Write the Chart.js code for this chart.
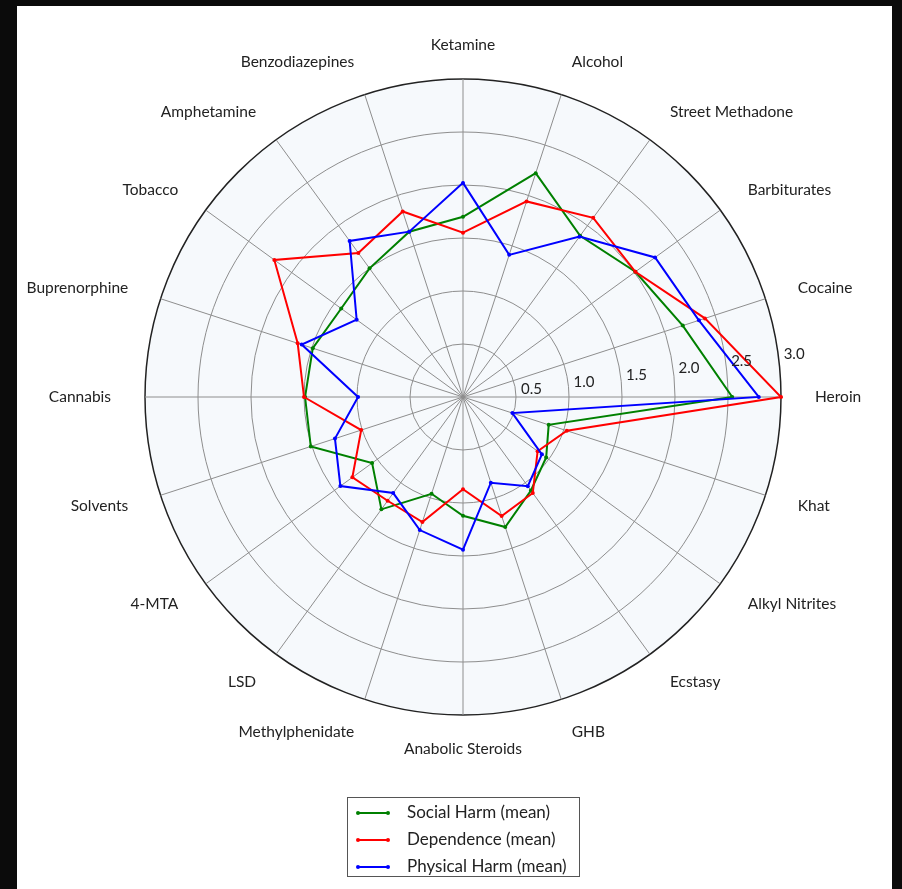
<!DOCTYPE html>
<html>
<head>
<meta charset="utf-8">
<script src="https://cdn.jsdelivr.net/npm/chart.js@4"></script>
<style>
  html, body { margin: 0; padding: 0; background: #0b0b0b; }
  #myChart { display: block; }
</style>
</head>
<body>
<canvas id="myChart" width="902" height="889"></canvas>
<script>
// categories, clockwise from the top
const drugs = ["Ketamine", "Alcohol", "Street Methadone", "Barbiturates", "Cocaine", "Heroin",
  "Khat", "Alkyl Nitrites", "Ecstasy", "GHB", "Anabolic Steroids", "Methylphenidate", "LSD",
  "4-MTA", "Solvents", "Cannabis", "Buprenorphine", "Tobacco", "Amphetamine", "Benzodiazepines"];

const socialHarm = [1.70, 2.22, 1.88, 2.01, 2.18, 2.54, 0.85, 0.97, 1.09, 1.29, 1.12, 0.96, 1.31,
  1.06, 1.51, 1.49, 1.49, 1.42, 1.50, 1.64];
const dependence = [1.55, 1.94, 2.09, 2.01, 2.40, 3.00, 1.03, 0.87, 1.12, 1.18, 0.87, 1.24, 1.21,
  1.29, 1.01, 1.50, 1.64, 2.20, 1.68, 1.84];
const physicalHarm = [2.02, 1.41, 1.87, 2.24, 2.34, 2.79, 0.49, 0.92, 1.04, 0.85, 1.44, 1.32, 1.12,
  1.43, 1.27, 0.99, 1.60, 1.24, 1.82, 1.64];

const tickLabels = ["0.5", "1.0", "1.5", "2.0", "2.5", "3.0"];

const FONT = "Lato, 'DejaVu Sans', sans-serif";
const GRID = "#8e8e8e";

// frame, polar background, labels and legend
const decorations = {
  id: "decorations",
  beforeDraw(chart) {
    const ctx = chart.ctx;
    const r = chart.scales.r;
    ctx.save();
    ctx.fillStyle = "#0b0b0b";
    ctx.fillRect(0, 0, chart.width, chart.height);
    ctx.fillStyle = "#ffffff";
    ctx.fillRect(17, 6, 875, 883);
    ctx.beginPath();
    ctx.arc(r.xCenter, r.yCenter, r.drawingArea, 0, Math.PI * 2);
    ctx.fillStyle = "#f6f9fc";
    ctx.fill();
    ctx.restore();
  },
  afterDraw(chart) {
    const ctx = chart.ctx;
    const r = chart.scales.r;
    ctx.save();

    // category labels: left/right aligned at a fixed distance past the rim
    ctx.font = "15.5px " + FONT;
    ctx.fillStyle = "#222";
    ctx.textBaseline = "middle";
    drugs.forEach((name, i) => {
      const p = r.getPointPosition(i, r.drawingArea + 34);
      const c = Math.cos(p.angle);
      ctx.textAlign = Math.abs(c) < 0.01 ? "center" : c > 0 ? "left" : "right";
      ctx.fillText(name, p.x, p.y);
    });

    // radial tick labels
    ctx.font = "15px " + FONT;
    ctx.textAlign = "center";
    const a = -7.5 * Math.PI / 180;
    tickLabels.forEach((t) => {
      const d = r.getDistanceFromCenterForValue(parseFloat(t)) + 16;
      ctx.fillText(t, r.xCenter + d * Math.cos(a), r.yCenter + d * Math.sin(a) + 1);
    });

    // legend box
    const bx = 347, by = 797, bw = 232, bh = 79;
    ctx.fillStyle = "#fff";
    ctx.fillRect(bx, by, bw, bh);
    ctx.strokeStyle = "#555";
    ctx.lineWidth = 1;
    ctx.strokeRect(bx + 0.5, by + 0.5, bw, bh);
    ctx.textAlign = "left";
    ctx.font = "17px " + FONT;
    chart.data.datasets.forEach((ds, i) => {
      const y = 813 + i * 27;
      ctx.strokeStyle = ds.borderColor;
      ctx.lineWidth = 2;
      ctx.beginPath();
      ctx.moveTo(358, y);
      ctx.lineTo(388, y);
      ctx.stroke();
      ctx.fillStyle = ds.borderColor;
      [358, 388].forEach((px) => {
        ctx.beginPath();
        ctx.arc(px, y, 2, 0, Math.PI * 2);
        ctx.fill();
      });
      ctx.fillStyle = "#222";
      ctx.fillText(ds.label, 407, y);
    });
    ctx.restore();
  },
};

const ctx = document.getElementById("myChart").getContext("2d");

const myChart = new Chart(ctx, {
  type: "radar",
  data: {
    labels: drugs,
    datasets: [
      { label: "Social Harm (mean)", data: socialHarm, borderColor: "#008000", order: 3 },
      { label: "Dependence (mean)", data: dependence, borderColor: "#ff0000", order: 2 },
      { label: "Physical Harm (mean)", data: physicalHarm, borderColor: "#0000ff", order: 1 },
    ],
  },
  options: {
    responsive: false,
    animation: false,
    devicePixelRatio: 1,
    layout: { padding: { left: 145, top: 79, right: 121, bottom: 174 } },
    elements: {
      line: { borderWidth: 2, fill: false, tension: 0 },
      point: { radius: 2, borderWidth: 0, hoverRadius: 2 },
    },
    datasets: {
      radar: {
        pointBackgroundColor: (c) => c.dataset.borderColor,
        backgroundColor: "transparent",
      },
    },
    plugins: {
      legend: { display: false },
      tooltip: { enabled: false },
    },
    scales: {
      r: {
        min: 0,
        max: 3,
        ticks: { display: false, stepSize: 0.5 },
        pointLabels: { display: false },
        grid: {
          circular: true,
          color: (c) => (c.tick && c.tick.value === 3 ? "#222" : GRID),
          lineWidth: (c) => (c.tick && c.tick.value === 3 ? 1.5 : 1),
        },
        angleLines: { color: GRID, lineWidth: 1 },
      },
    },
  },
  plugins: [decorations],
});
</script>
</body>
</html>
